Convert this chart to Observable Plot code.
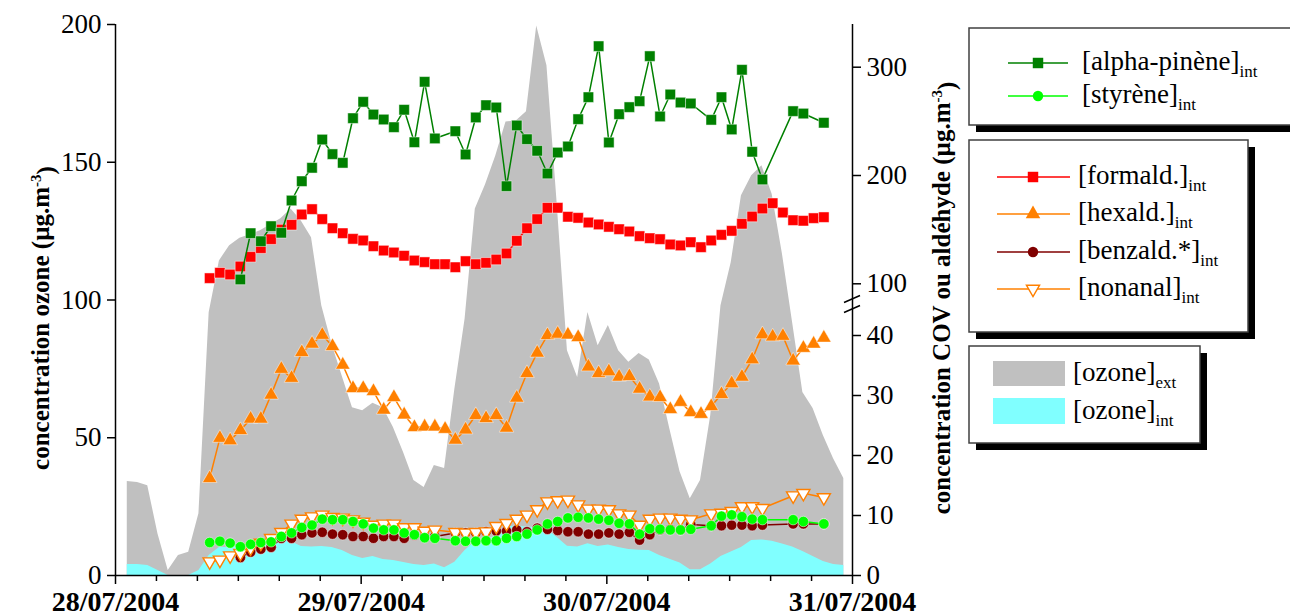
<!DOCTYPE html>
<html>
<head>
<meta charset="utf-8">
<script src="https://cdn.jsdelivr.net/npm/d3@7"></script>
<script src="https://cdn.jsdelivr.net/npm/@observablehq/plot@0.6"></script>
<style>
  html, body { margin: 0; padding: 0; background: #fff; }
  #chart { position: relative; width: 1290px; height: 616px; overflow: hidden; }
  #chart svg { position: absolute; left: 0; top: 0; }
</style>
</head>
<body>
<div id="chart"></div>
<script>
// ---------------- DATA ----------------
// x = hours after 28/07/2004 00:00
const dayTicks = [0, 24, 48, 72];
const dayLabels = ["28/07/2004", "29/07/2004", "30/07/2004", "31/07/2004"];
const leftTicks = [0, 50, 100, 150, 200];
const rightTicks = [0, 10, 20, 30, 40, 100, 200, 300];

// hourly VOC / aldehyde samples, first one at 09:12 on 28/07
const vocStart = 9.2;
const formald = [105.2, 110.2, 108.6, 116.0, 124.9, 132.9, 141.2, 150.1, 154.5, 164.0, 168.9, 159.7, 151.3, 146.7, 141.5, 140.0, 134.7, 130.7, 128.9, 125.9, 121.5, 120.0, 118.1, 118.1, 115.3, 120.9, 118.1, 119.4, 122.4, 128.0,
  139.7, 151.3, 159.7, 170.2, 170.2, 161.9, 160.9, 156.6, 154.8, 152.6, 150.4, 148.3, 144.0, 142.1, 141.2, 136.3, 135.4, 138.4, 133.8, 140.0, 145.2, 148.9, 155.4, 162.1, 169.5, 174.4, 165.8, 158.7, 158.2, 160.6, 161.5];
const hexald = [16.2, 22.9, 22.5, 24.2, 26.1, 26.1, 30.1, 34.4, 32.9, 37.2, 38.6, 40.5, 38.2, 35.1, 31.2, 31.2, 30.7, 27.6, 29.7, 26.8, 24.7, 24.8, 24.8, 24.4, 22.6, 24.3, 26.7,
  26.2, 26.7, 24.6, 29.6, 33.7, 37.1, 40.2, 41.8, 40.8, 39.7, 34.8, 33.7, 34.0, 33.1, 33.2, 31.1, 29.8, 29.7, 27.7, 28.9, 27.2, 26.9, 28.2, 30.2, 32.0, 33.1, 36.0, 41.1, 39.8, 39.9, 35.8, 37.9, 38.6, 39.6];
const pinene = [null, null, null, 104.0, 146.7, 139.3, 153.2, 147.1, 176.9, 194.7, 207.1, 233.2, 219.7, 211.7, 252.9, 268.0, 256.3, 251.7, 244.6, 260.7, 230.7, 286.5, 234.2, null,
  240.9, 219.4, 253.6, 264.9, 262.8, 190.1, 246.2, 233.5, 222.8, 201.8, 221.2, 226.8, 252.0, 272.3, 319.4, 230.5, 256.6, 263.1, 268.6, 310.2, 254.5, 274.8, 267.4, 266.5, null,
  251.4, 272.3, 242.5, 297.6, 221.9, 196.3, null, null, 259.4, 257.2, null, 248.7];
const styrene = [5.5, 5.7, 5.4, 4.8, 5.2, 5.5, 5.6, 6.5, 7.1, 8.0, 8.4, 9.4, 9.3, 9.3, 9.0, 8.6, 7.9, 7.6, 7.6, 7.1, 6.8, 6.3, 6.2, null,
  5.8, 5.7, 5.7, 5.8, 5.8, 6.2, 6.5, 6.9, 7.6, 8.6, 9.0, 9.6, 9.7, 9.6, 9.4, 9.2, 8.7, 8.6, 6.9, 7.8, 7.7, 7.6, 7.6, 7.7, null,
  8.3, 9.9, 10.1, 9.8, 9.4, 9.3, null, null, 9.3, 9.0, null, 8.6];
const benzald = [null, null, null, 3.0, 3.9, 4.4, 4.7, 6.2, 6.2, 6.8, 7.1, 7.2, 6.9, 6.8, 6.5, 6.5, 6.2, 6.5, 6.5, 6.2, 6.7, 6.5, 6.5, null,
  7.1, 7.1, 7.1, 7.3, 7.4, 7.4, 7.6, 7.3, 7.9, 7.7, 7.5, 7.3, 7.3, 6.9, 6.9, 7.1, 6.9, 7.2, 5.9, 6.8, 7.6, 7.7, 7.6, 8.5, null,
  8.3, 8.3, 8.4, 8.4, 8.3, 8.4, null, null, 8.6, 8.6, null, 8.6];
const nonanal = [2.3, 2.6, 3.3, 3.7, 4.6, 5.4, 6.2, 7.2, 8.6, 9.4, 9.8, 10.1, 9.7, 9.6, 9.3, 8.9, 8.4, 8.6, 8.6, 8.0, 8.0, 7.4, 7.6, null,
  7.2, 7.1, 7.2, 7.3, 8.2, 8.7, 9.4, 10.1, 11.0, 12.3, 12.5, 12.6, 11.8, 11.1, 11.1, 11.0, 10.3, 10.1, 8.4, 9.4, 9.6, 9.6, 9.4, 9.3, null,
  10.3, 10.4, 10.7, 11.5, 11.5, 11.2, null, null, 13.3, 13.7, null, 13.0];

// hourly ozone, first sample at 01:15 on 28/07
const ozoneStart = 1.15;
const ozoneExt = [34.1, 33.8, 32.6, 15.1, 1.8, 7.3, 8.4, 22.4, 95.4, 114.2, 119.7, 122.4, 123.7, 125.1, 127.3, 129.5, 133.0, 128.7, 122.6, 97.9,
  83.9, 72.3, 60.9, 59.8, 62.5, 60.9, 53.7, 44.6, 34.5, 31.9, 39.9, 38.8, 67.5, 93.0, 133.0, 141.8, 152.3, 164.6, 165.0, 168.3,
  199.5, 185.0, 134.9, 81.6, 71.9, 95.5, 83.4, 90.7, 81.6, 77.4, 80.6, 78.2, 69.5, 53.3, 37.7, 27.9, 34.5, 58.0, 97.9, 113.5,
  137.8, 145.1, 148.7, 138.4, 116.8, 91.7, 66.4, 60.6, 50.8, 42.4, 35.2];
const ozoneInt = [4.0, 4.0, 3.6, 1.8, 0, 0, 0, 1.8, 7.3, 10.2, 10.2, 10.5, 10.9, 11.6, 12.3, 13.1, 12.3, 10.5, 10.3, 10.5,
  10.2, 9.1, 7.3, 6.2, 6.9, 5.8, 5.4, 4.7, 4.0, 3.6, 4.2, 2.8, 4.8, 9.1, 12.3, 12.3, 14.5, 17.4, 18.1, 17.5,
  17.4, 16.7, 13.8, 10.6, 10.3, 11.5, 10.5, 11.1, 10.2, 9.4, 9.2, 9.1, 7.3, 5.9, 4.5, 2.1, 2.1, 4.2, 6.9, 8.5,
  10.2, 12.7, 12.9, 12.4, 11.4, 10.3, 8.7, 6.9, 5.1, 4.0, 3.6];

// ---------------- STYLE ----------------
const W = 1290, H = 616;
const FONT = '"Liberation Serif", "Times New Roman", serif';
const C = {
  pinene: "#008000", styrene: "#00ff00", formald: "#ff0000", hexald: "#ff8000",
  benzald: "#800000", nonanal: "#ff8000", ozExt: "#c0c0c0", ozInt: "#80ffff"
};
const triDown = {
  draw(ctx, size) {
    const s = Math.sqrt(size / (Math.sqrt(3) / 4));
    const h = s * Math.sqrt(3) / 2;
    ctx.moveTo(-s / 2, -h / 3);
    ctx.lineTo(s / 2, -h / 3);
    ctx.lineTo(0, 2 * h / 3);
    ctx.closePath();
  }
};

const toRows = (vals, start) => vals.map((v, i) => ({t: start + i, v})).filter(d => d.v != null);
const ozExtRows = toRows(ozoneExt, ozoneStart);
const ozIntRows = toRows(ozoneInt, ozoneStart);
const minorTicks = d3.range(0, 73, 4).filter(h => h % 24 !== 0);

const common = {
  width: W, height: H,
  marginLeft: 115, marginRight: 438, marginTop: 24, marginBottom: 41,
  style: {background: "transparent", fontFamily: FONT, fontSize: "27px", color: "#000", overflow: "visible"}
};

// ---------- back plot : ozone (left axis) ----------
const pA = Plot.plot({
  ...common,
  x: {domain: [0, 72]},
  y: {domain: [0, 200]},
  marks: [
    Plot.areaY(ozExtRows, {x: "t", y: "v", fill: C.ozExt}),
    Plot.areaY(ozIntRows, {x: "t", y: "v", fill: C.ozInt}),
    Plot.ruleX([0, 72], {stroke: "#000", strokeWidth: 1.5}),
    Plot.ruleY([0], {stroke: "#000", strokeWidth: 1.5}),
    Plot.axisY(leftTicks, {anchor: "left", tickSize: 8, tickPadding: 6, strokeWidth: 1.5, label: null, fontSize: 27}),
    Plot.axisX(minorTicks, {anchor: "bottom", tickSize: 6, strokeWidth: 1.5, tickFormat: () => "", label: null}),
    Plot.axisX(dayTicks, {anchor: "bottom", tickSize: 9, tickPadding: 7, strokeWidth: 1.5,
      tickFormat: d => dayLabels[dayTicks.indexOf(d)], fontWeight: "bold", fontSize: 28, label: null})
  ]
});

// ---------- front plot : VOC / aldehydes (right broken axis) ----------
const serie = (vals, color, symbol, r, opts = {}) => {
  const rows = toRows(vals, vocStart);
  return [
    Plot.line(rows, {x: "t", y: "v", stroke: color, strokeWidth: 1.5}),
    Plot.dot(rows, {x: "t", y: "v", symbol, r, fill: opts.fill ?? color,
      stroke: opts.stroke ?? "#ffffff", strokeWidth: opts.strokeWidth ?? 0.8, strokeOpacity: opts.strokeOpacity ?? 0.6})
  ];
};

const pB = Plot.plot({
  ...common,
  x: {domain: [0, 72], axis: null},
  y: {type: "linear", domain: [0, 40, 100, 300], range: [575, 335, 283.3, 66.7], axis: null},
  marks: [
    ...serie(formald, C.formald, "square", 5.9),
    ...serie(hexald, C.hexald, "triangle", 5.4),
    ...serie(benzald, C.benzald, "circle", 5.2),
    ...serie(nonanal, C.nonanal, triDown, 4.9, {fill: "#fff", stroke: C.nonanal, strokeWidth: 1.4, strokeOpacity: 1}),
    ...serie(pinene, C.pinene, "square", 5.9),
    ...serie(styrene, C.styrene, "circle", 5.2),
    Plot.axisY(rightTicks, {anchor: "right", tickSize: 8, tickPadding: 6, strokeWidth: 1.5, label: null, fontSize: 27})
  ]
});

const chart = document.getElementById("chart");
chart.appendChild(pA);
chart.appendChild(pB);

// axis titles
const svgA = d3.select(pA);
function vTitle(svg, x, y, main) {
  const t = svg.append("text")
    .attr("transform", `translate(${x},${y}) rotate(-90)`)
    .attr("text-anchor", "middle")
    .attr("dy", "0.35em")
    .style("font-family", FONT).style("font-weight", "bold").style("font-size", "25px").attr("fill", "#000");
  t.append("tspan").text(main);
  t.append("tspan").attr("dy", "-0.55em").style("font-size", "15px").text("-3");
  t.append("tspan").attr("dy", "0.55em").text(")");
}
vTitle(svgA, 40, 318, "concentration ozone (µg.m");
vTitle(d3.select(pB), 941, 298, "concentration COV ou aldéhyde (µg.m");

// axis break marks on the right axis
{
  const ys = pB.scale("y"), xs = pB.scale("x");
  const xb = xs.apply(72);
  const yb = 0.4 * ys.apply(40) + 0.6 * ys.apply(100);
  const g = d3.select(pB).append("g").attr("stroke", "#000").attr("stroke-width", 1.5);
  for (const dy of [-5, 5]) {
    g.append("line").attr("x1", xb - 8).attr("y1", yb + dy + 3.5).attr("x2", xb + 8).attr("y2", yb + dy - 3.5);
  }
}

// ---------------- LEGEND ----------------
const leg = d3.select(chart).append("svg").attr("width", W).attr("height", H)
  .style("font-family", FONT);
function box(x, y, w, h) {
  leg.append("rect").attr("x", x + 7).attr("y", y + 7).attr("width", w).attr("height", h).attr("fill", "#000");
  leg.append("rect").attr("x", x).attr("y", y).attr("width", w).attr("height", h)
    .attr("fill", "#fff").attr("stroke", "#404040").attr("stroke-width", 1.5);
}
function label(x, y, main, sub) {
  const t = leg.append("text").attr("x", x).attr("y", y).style("font-size", "27px").attr("fill", "#000");
  t.append("tspan").text(main);
  t.append("tspan").attr("dy", 7).style("font-size", "17px").text(sub);
}
function symRow(x1, x2, xm, y, color, sym, r, fill, stroke) {
  leg.append("line").attr("x1", x1).attr("x2", x2).attr("y1", y).attr("y2", y).attr("stroke", color).attr("stroke-width", 1.5);
  leg.append("path").attr("d", d3.symbol(sym, Math.PI * r * r)())
    .attr("transform", `translate(${xm},${y})`)
    .attr("fill", fill).attr("stroke", stroke || "none").attr("stroke-width", 1.4);
}

box(969, 28, 340, 97);
symRow(1008, 1068, 1038, 63, C.pinene, d3.symbolSquare, 5.9, C.pinene);
label(1082, 70, "[alpha-pinène]", "int");
symRow(1008, 1068, 1038, 96, C.styrene, d3.symbolCircle, 5.2, C.styrene);
label(1082, 103, "[styrène]", "int");

box(969, 140, 279, 192);
symRow(997, 1070, 1033, 177, C.formald, d3.symbolSquare, 5.9, C.formald);
label(1078, 184, "[formald.]", "int");
symRow(997, 1070, 1033, 214, C.hexald, d3.symbolTriangle, 5.4, C.hexald);
label(1078, 221, "[hexald.]", "int");
symRow(997, 1070, 1033, 252, C.benzald, d3.symbolCircle, 5.2, C.benzald);
label(1078, 259, "[benzald.*]", "int");
symRow(997, 1070, 1033, 289, C.nonanal, triDown, 4.9, "#fff", C.nonanal);
label(1078, 296, "[nonanal]", "int");

box(969, 346, 231, 97);
leg.append("rect").attr("x", 993).attr("y", 361).attr("width", 72).attr("height", 25).attr("fill", C.ozExt);
label(1073, 381, "[ozone]", "ext");
leg.append("rect").attr("x", 993).attr("y", 398).attr("width", 72).attr("height", 26).attr("fill", C.ozInt);
label(1073, 419, "[ozone]", "int");
</script>
</body>
</html>
